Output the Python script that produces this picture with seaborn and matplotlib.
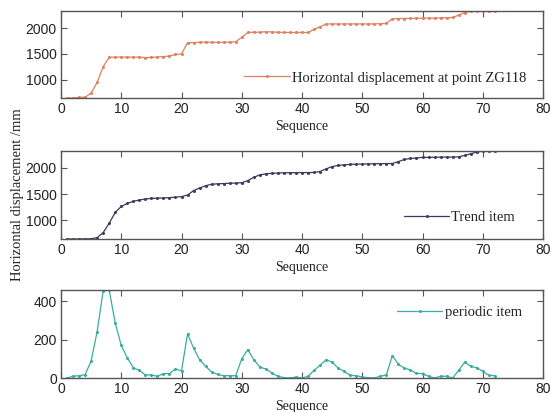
import numpy as np
import pandas as pd
import matplotlib
matplotlib.use("Agg")
import matplotlib.pyplot as plt
import seaborn as sns

# Monitoring sequence (observation index)
sequence = list(range(1, 73))

# Measured horizontal displacement at ZG118 (mm)
displacement = [
    650, 650, 660, 665, 745, 950, 1255, 1435, 1440, 1440,
    1440, 1440, 1440, 1430, 1435, 1440, 1450, 1460, 1490, 1500,
    1717, 1720, 1725, 1730, 1725, 1725, 1725, 1730, 1735, 1820,
    1917, 1920, 1920, 1930, 1925, 1920, 1915, 1915, 1915, 1917,
    1915, 1975, 2025, 2077, 2080, 2080, 2080, 2080, 2080, 2080,
    2080, 2080, 2085, 2090, 2180, 2185, 2185, 2188, 2190, 2192,
    2195, 2190, 2198, 2200, 2205, 2250, 2300, 2325, 2330, 2325,
    2325, 2330,
]

# Trend component (mm)
trend = [
    640, 640, 640, 642, 645, 667, 763, 942, 1147, 1263,
    1320, 1360, 1385, 1404, 1417, 1420, 1425, 1430, 1440, 1450,
    1480, 1565, 1615, 1660, 1685, 1695, 1700, 1705, 1710, 1715,
    1756, 1820, 1865, 1885, 1895, 1900, 1905, 1907, 1908, 1910,
    1910, 1912, 1930, 1980, 2025, 2045, 2058, 2065, 2070, 2073,
    2076, 2078, 2080, 2082, 2083, 2120, 2160, 2180, 2190, 2200,
    2200, 2202, 2204, 2205, 2207, 2210, 2237, 2270, 2300, 2320,
    2322, 2330,
]

# Periodic component (mm)
periodic = [
    0, 9, 12, 17, 89, 243, 455, 460, 287, 170,
    106, 54, 40, 16, 16, 9, 23, 23, 47, 37,
    231, 157, 96, 61, 31, 19, 12, 12, 12, 101,
    148, 96, 57, 47, 26, 9, 2, 0, 5, 0,
    9, 40, 66, 96, 82, 52, 35, 14, 12, 5,
    2, 0, 9, 16, 117, 71, 52, 42, 24, 23,
    9, 0, 9, 9, 0, 40, 83, 61, 54, 35,
    14, 12,
]

df = pd.DataFrame({
    "Sequence": sequence,
    "displacement": displacement,
    "trend": trend,
    "periodic": periodic,
})

sns.set_style("white")
plt.rcParams["font.family"] = ["Liberation Sans", "DejaVu Sans"]
plt.rcParams["xtick.direction"] = "in"
plt.rcParams["ytick.direction"] = "in"

serif = ["Liberation Serif", "DejaVu Serif"]
edge = "#555555"

fig = plt.figure(figsize=(5.51, 4.12), dpi=100)
fig.patch.set_facecolor("white")

W = 551.0
H = 412.0
left = 61 / W
width = 482 / W

panels = [
    # (column, colour, label, top px, bottom px, ylim, yticks, legend anchor)
    ("displacement", "#e0805f", "Horizontal displacement at point ZG118",
     11, 98, (650, 2330), [1000, 1500, 2000], (0.965, 0.23)),
    ("trend", "#3b3b5c", "Trend item",
     151, 239, (640, 2322), [1000, 1500, 2000], (0.942, 0.24)),
    ("periodic", "#3aada0", "periodic item",
     290, 378, (0, 460), [0, 200, 400], (0.956, 0.74)),
]

axes = []
for col, color, label, top_px, bot_px, ylim, yticks, anchor in panels:
    ax = fig.add_axes([left, 1 - bot_px / H, width, (bot_px - top_px) / H])
    sns.lineplot(data=df, x="Sequence", y=col, ax=ax, color=color,
                 linewidth=0.9, marker="o", markersize=2.2,
                 markeredgewidth=0, label=label)
    ax.set_xlim(0, 80)
    ax.set_ylim(*ylim)
    ax.set_xticks(range(0, 81, 10))
    ax.set_yticks(yticks)
    ax.tick_params(axis="both", which="both", direction="in", length=4,
                   width=0.8, color=edge, labelsize=10, labelcolor="#222222",
                   bottom=True, left=True, top=True, right=True, pad=3)
    for s in ax.spines.values():
        s.set_color(edge)
        s.set_linewidth(1.0)
    ax.set_xlabel("Sequence", fontfamily=serif, fontsize=10, labelpad=3,
                  color="#222222")
    ax.set_ylabel("")
    leg = ax.legend(loc="center right", bbox_to_anchor=anchor, frameon=False,
                    borderpad=0, borderaxespad=0, handlelength=3.1,
                    handletextpad=0.15, numpoints=1,
                    prop={"family": serif, "size": 10.5})
    for t in leg.get_texts():
        t.set_color("#222222")
    axes.append(ax)

fig.text(18 / W, 1 - 195 / H, "Horizontal displacement /mm", rotation=90,
         ha="center", va="center", fontfamily=serif, fontsize=10.5,
         color="#222222")

fig.savefig("out.png", dpi=100, facecolor="white")
